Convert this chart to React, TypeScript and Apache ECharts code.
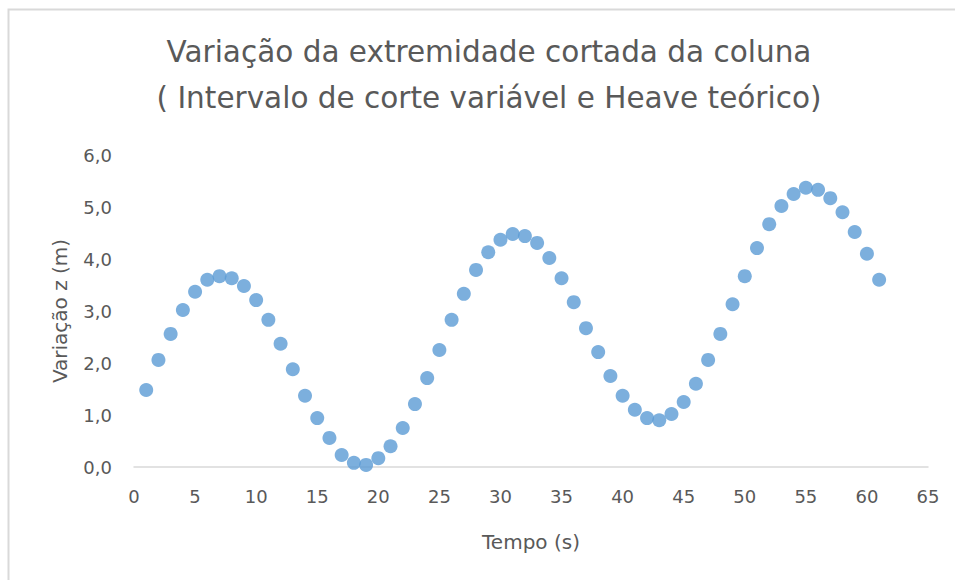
import React, { useEffect, useRef } from "react";
import * as echarts from "echarts";

const titleLines = [
  "Variação da extremidade cortada da coluna",
  "( Intervalo de corte variável e Heave teórico)",
];
const xName = "Tempo (s)";
const yName = "Variação z (m)";

const tempo = [
  1, 2, 3, 4, 5, 6, 7, 8, 9, 10, 11, 12, 13, 14, 15, 16, 17, 18, 19, 20,
  21, 22, 23, 24, 25, 26, 27, 28, 29, 30, 31, 32, 33, 34, 35, 36, 37, 38, 39, 40,
  41, 42, 43, 44, 45, 46, 47, 48, 49, 50, 51, 52, 53, 54, 55, 56, 57, 58, 59, 60, 61,
];
const variacao = [
  1.48, 2.06, 2.56, 3.02, 3.37, 3.6, 3.67, 3.63, 3.48, 3.21,
  2.83, 2.37, 1.88, 1.37, 0.94, 0.56, 0.23, 0.08, 0.04, 0.17,
  0.4, 0.75, 1.21, 1.71, 2.25, 2.83, 3.33, 3.79, 4.13, 4.37,
  4.48, 4.44, 4.31, 4.02, 3.63, 3.17, 2.67, 2.21, 1.75, 1.37,
  1.1, 0.94, 0.9, 1.02, 1.25, 1.6, 2.06, 2.56, 3.13, 3.67,
  4.21, 4.67, 5.02, 5.25, 5.37, 5.33, 5.17, 4.9, 4.52, 4.1, 3.6,
];

const FONT = "'DejaVu Sans', 'Open Sans', sans-serif";
const TEXT = "#595959";

export default function App() {
  const ref = useRef<HTMLDivElement>(null);
  useEffect(() => {
    if (!ref.current) return;
    const chart = echarts.init(ref.current, undefined, { renderer: "svg" });
    chart.setOption({
      animation: false,
      backgroundColor: "#ffffff",
      textStyle: { fontFamily: FONT },
      graphic: [
        {
          type: "rect",
          shape: { x: 8.5, y: 9.5, width: 1200, height: 1200 },
          style: { fill: "none", stroke: "#d9d9d9", lineWidth: 2 },
          silent: true,
        },
        {
          type: "text",
          x: 489,
          y: 52,
          style: {
            text: titleLines[0],
            fill: TEXT,
            font: `29.5px ${FONT}`,
            align: "center",
            verticalAlign: "middle",
          },
        },
        {
          type: "text",
          x: 489,
          y: 98,
          style: {
            text: titleLines[1],
            fill: TEXT,
            font: `29.5px ${FONT}`,
            align: "center",
            verticalAlign: "middle",
          },
        },
      ],
      grid: { left: 134, right: 27, top: 155, bottom: 113 },
      xAxis: {
        type: "value",
        min: 0,
        max: 65,
        interval: 5,
        name: xName,
        nameLocation: "middle",
        nameGap: 65,
        nameTextStyle: { color: TEXT, fontSize: 20, fontFamily: FONT },
        axisLine: { show: true, lineStyle: { color: "#d9d9d9", width: 1.5 } },
        axisTick: { show: false },
        splitLine: { show: false },
        axisLabel: { color: TEXT, fontSize: 18, margin: 20, fontFamily: FONT },
      },
      yAxis: {
        type: "value",
        min: 0,
        max: 6,
        interval: 1,
        name: yName,
        nameLocation: "middle",
        nameGap: 64,
        nameTextStyle: { color: TEXT, fontSize: 20, fontFamily: FONT },
        axisLine: { show: false },
        axisTick: { show: false },
        splitLine: { show: false },
        axisLabel: {
          color: TEXT,
          fontSize: 18,
          margin: 22,
          fontFamily: FONT,
          formatter: (v: number) => v.toFixed(1).replace(".", ","),
        },
      },
      series: [
        {
          type: "scatter",
          data: tempo.map((t, i) => [t, variacao[i]]),
          symbol: "circle",
          symbolSize: 14,
          itemStyle: { color: "#5B9BD5" },
        },
      ],
    });
    return () => chart.dispose();
  }, []);
  return (
    <div
      ref={ref}
      style={{ position: "absolute", left: 0, top: 0, width: 955, height: 580 }}
    />
  );
}
